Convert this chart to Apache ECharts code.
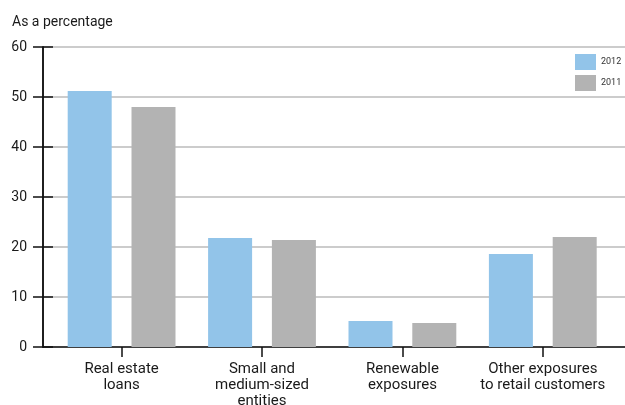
<!DOCTYPE html>
<html>
<head>
<meta charset="utf-8">
<script src="https://cdn.jsdelivr.net/npm/echarts@6/dist/echarts.min.js"></script>
<style>html,body{margin:0;padding:0;background:#fff;}#c{width:625px;height:405px;}</style>
</head>
<body>
<div id="c"></div>
<script>
var categories = ['Real estate\nloans', 'Small and\nmedium-sized\nentities', 'Renewable\nexposures', 'Other exposures\nto retail customers'];
var values2012 = [51.2, 21.8, 5.2, 18.6];
var values2011 = [48.0, 21.4, 4.8, 22.0];
var seriesNames = ['2012', '2011'];
var yTicks = { min: 0, max: 60, interval: 10 };

var FONT = "Roboto, 'DejaVu Sans', sans-serif";
var chart = echarts.init(document.getElementById('c'), null, { renderer: 'canvas' });
chart.setOption({
  animation: false,
  backgroundColor: '#fff',
  textStyle: { fontFamily: FONT },
  title: {
    text: 'As a percentage', left: 7, top: 10,
    textStyle: { fontSize: 14, fontWeight: 'normal', color: '#1a1a1a', fontFamily: FONT }
  },
  legend: {
    orient: 'vertical', left: 575, top: 54, padding: 0, itemWidth: 21, itemHeight: 16, itemGap: 5,
    icon: 'rect', data: seriesNames,
    textStyle: { fontSize: 9, color: '#333', fontFamily: FONT }
  },
  grid: [
    { left: 43, right: 0, top: 47, height: 300, outerBoundsMode: 'none', containLabel: false },
    { left: 51.4, width: 561.6, top: 47, height: 300, outerBoundsMode: 'none', containLabel: false }
  ],
  xAxis: [
    { gridIndex: 0, type: 'value', min: 0, max: 1,
      axisLine: { show: true, lineStyle: { color: '#111', width: 1.5 } },
      axisTick: { show: false }, axisLabel: { show: false }, splitLine: { show: false } },
    { gridIndex: 1, type: 'category', data: categories,
      axisLine: { show: false },
      axisTick: { show: true, alignWithLabel: true, interval: 0, length: 10, lineStyle: { color: '#111', width: 1.5 } },
      axisLabel: { interval: 0, margin: 14, fontSize: 15, color: '#1a1a1a', lineHeight: 16, fontFamily: FONT } }
  ],
  yAxis: [
    { gridIndex: 0, type: 'value', position: 'left', min: yTicks.min, max: yTicks.max, interval: yTicks.interval,
      axisLine: { show: true, lineStyle: { color: '#111', width: 1.5 } },
      axisTick: { show: true, length: 10, lineStyle: { color: '#111', width: 1.5 } },
      axisLabel: { margin: 16, fontSize: 14, color: '#1a1a1a', fontFamily: FONT },
      splitLine: { show: true, lineStyle: { color: '#bbb', width: 1.5 } } },
    { gridIndex: 1, type: 'value', min: yTicks.min, max: yTicks.max, interval: yTicks.interval, show: false },
    { gridIndex: 0, type: 'value', position: 'left', min: yTicks.min, max: yTicks.max, interval: yTicks.interval,
      axisLine: { show: true, lineStyle: { color: '#111', width: 1.5 } },
      axisTick: { show: true, inside: true, length: 10, lineStyle: { color: '#111', width: 1.5 } },
      axisLabel: { show: false }, splitLine: { show: false } }
  ],
  series: [
    { name: seriesNames[0], type: 'bar', xAxisIndex: 1, yAxisIndex: 1, data: values2012,
      barWidth: 44, barGap: '45%', itemStyle: { color: '#92C4E9' } },
    { name: seriesNames[1], type: 'bar', xAxisIndex: 1, yAxisIndex: 1, data: values2011,
      barWidth: 44, barGap: '45%', itemStyle: { color: '#B3B3B3' } }
  ]
});
</script>
</body>
</html>
